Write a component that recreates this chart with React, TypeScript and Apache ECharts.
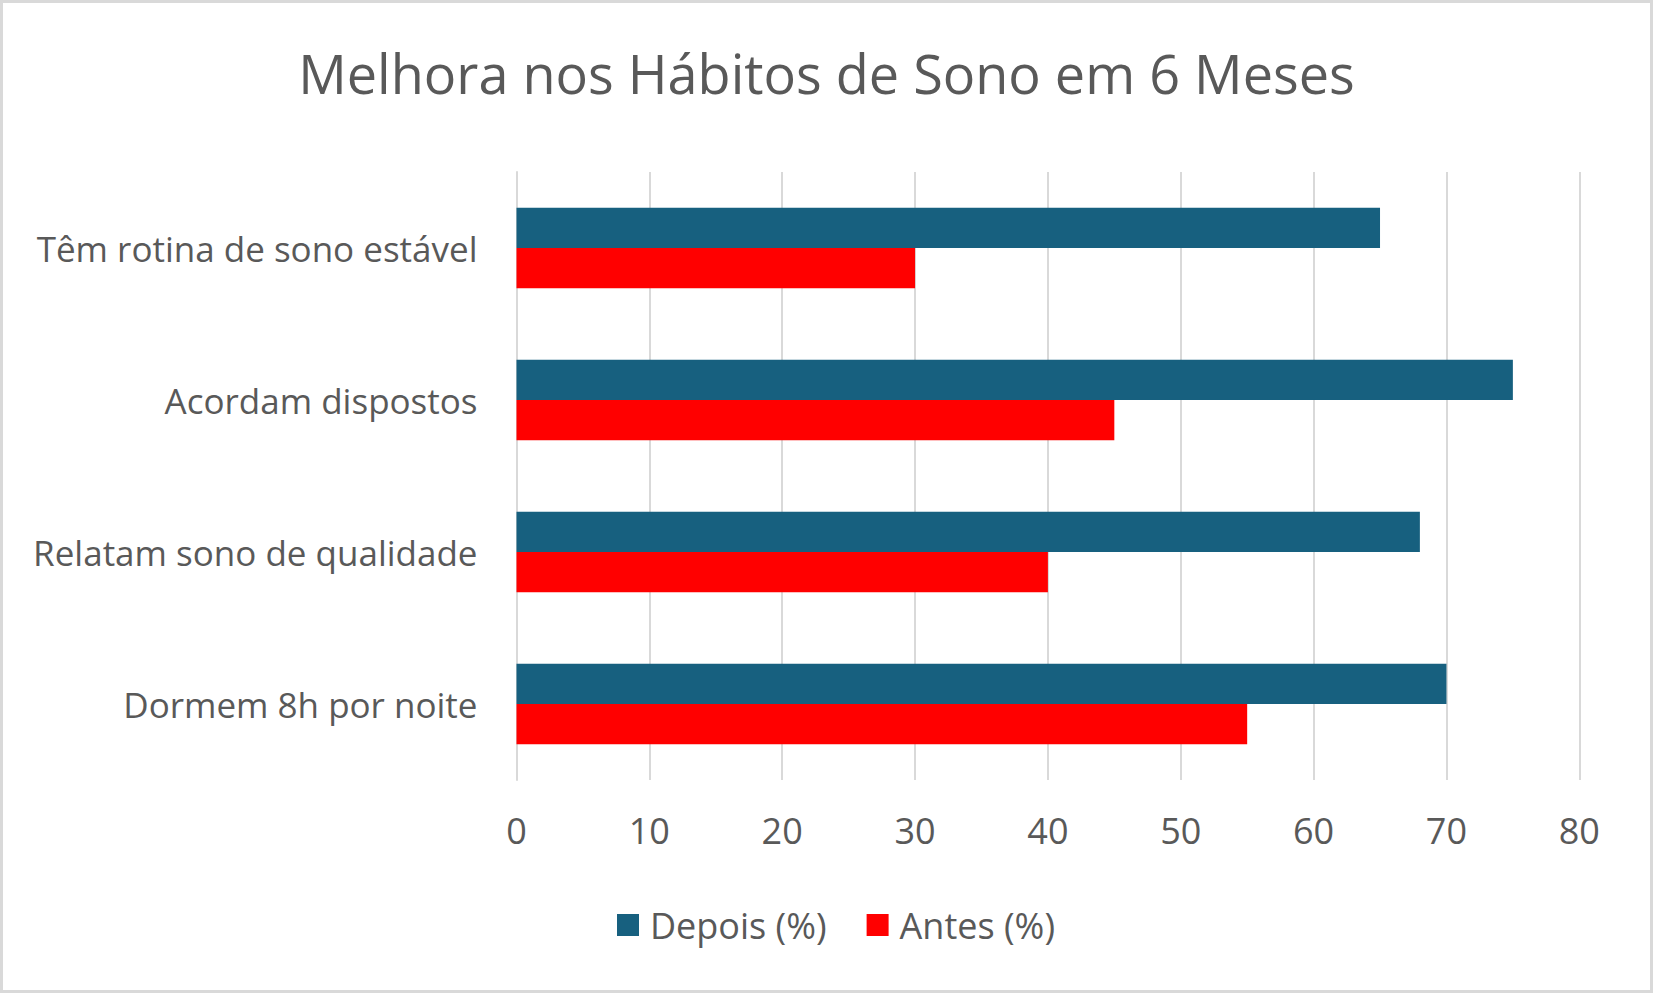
import React, { useEffect, useRef } from "react";
import * as echarts from "echarts";

const categories = [
  "Têm rotina de sono estável",
  "Acordam dispostos",
  "Relatam sono de qualidade",
  "Dormem 8h por noite",
];
const depois = [65, 75, 68, 70];
const antes = [30, 45, 40, 55];
const seriesNames = ["Depois (%)", "Antes (%)"];
const titleText = "Melhora nos Hábitos de Sono em 6 Meses";

const FONT = "'Open Sans', sans-serif";
const TEXT = "#595959";

export default function App() {
  const ref = useRef<HTMLDivElement>(null);
  useEffect(() => {
    document.body.style.margin = "0";
    const chart = echarts.init(ref.current!, null, { renderer: "svg" });
    chart.setOption({
      animation: false,
      backgroundColor: "#ffffff",
      textStyle: { fontFamily: FONT },
      title: {
        text: titleText,
        left: "center",
        top: 41,
        textStyle: { fontFamily: FONT, fontSize: 54, fontWeight: "normal", color: TEXT },
      },
      legend: {
        data: seriesNames,
        left: 612,
        top: 902,
        icon: "rect",
        itemWidth: 22,
        itemHeight: 22,
        itemGap: 40,
        textStyle: { fontFamily: FONT, fontSize: 36, color: TEXT, padding: [0, 0, 0, 6] },
      },
      grid: { left: 516.5, right: 73.7, top: 172, bottom: 213, containLabel: false },
      xAxis: {
        type: "value",
        min: 0,
        max: 80,
        interval: 10,
        axisLine: { show: false },
        axisTick: { show: false },
        splitLine: { show: true, lineStyle: { color: "#d9d9d9", width: 2 } },
        axisLabel: { fontFamily: FONT, fontSize: 36, color: TEXT, margin: 32 },
      },
      yAxis: {
        type: "category",
        data: categories,
        inverse: true,
        axisLine: { show: true, lineStyle: { color: "#d9d9d9", width: 2 } },
        axisTick: { show: false },
        axisLabel: { fontFamily: FONT, fontSize: 35, color: TEXT, margin: 39, padding: [0, 0, 8, 0] },
      },
      series: [
        {
          name: seriesNames[0],
          type: "bar",
          data: depois,
          itemStyle: { color: "#17607f" },
          barGap: "0%",
          barCategoryGap: "47%",
        },
        {
          name: seriesNames[1],
          type: "bar",
          data: antes,
          itemStyle: { color: "#ff0000" },
          barGap: "0%",
          barCategoryGap: "47%",
        },
      ],
      graphic: [
        {
          type: "rect",
          shape: { x: 1.5, y: 1.5, width: 1650, height: 990 },
          style: { fill: "none", stroke: "#d9d9d9", lineWidth: 3 },
          silent: true,
        },
      ],
    });
    return () => chart.dispose();
  }, []);
  return <div ref={ref} style={{ width: 1653, height: 993 }} />;
}
